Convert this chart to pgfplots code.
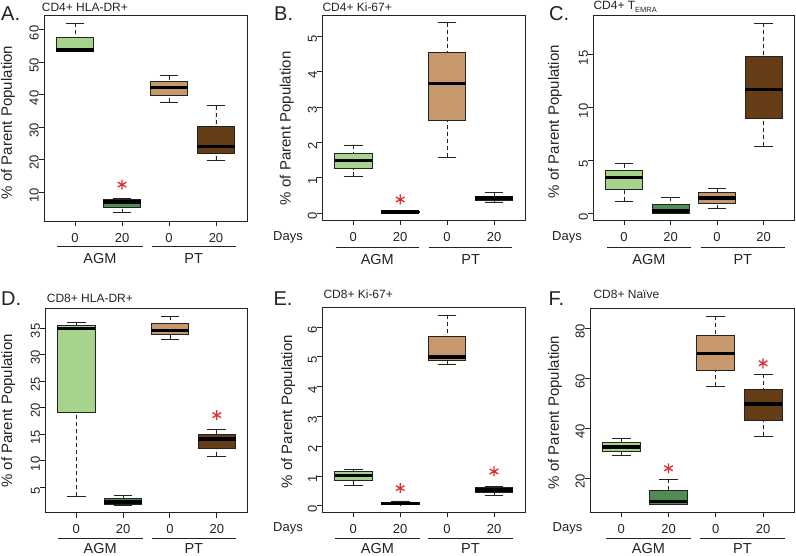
\documentclass[border=0pt]{standalone}
\usepackage{pgfplots}
\pgfplotsset{compat=1.18}
\usepgfplotslibrary{statistics}
\usepackage{fontspec}
\setmainfont{Liberation Sans}
\definecolor{lgreen}{RGB}{166,212,140}
\definecolor{dgreen}{RGB}{80,140,84}
\definecolor{tanc}{RGB}{198,152,108}
\definecolor{dbrown}{RGB}{102,60,22}
\definecolor{starred}{RGB}{225,45,50}
\definecolor{ink}{RGB}{35,35,35}
\pgfplotsset{
  panel/.style={
    scale only axis, clip=false,
    xmin=0.34, xmax=4.66,
    xtick={1,2,3,4}, xticklabels={0,20,0,20},
    xtick pos=lower, ytick pos=left,
    tick align=outside, major tick length=5pt,
    axis line style={draw=ink, line width=0.9pt},
    tick style={draw=ink, line width=0.9pt},
    /pgf/number format/assume math mode=true,
    tick label style={font=\fontsize{13}{13}\selectfont, text=ink},
    yticklabel style={rotate=90, anchor=south, inner sep=0pt, xshift=-3pt},
    xticklabel style={anchor=north, inner sep=0pt, yshift=-7pt},
    scaled y ticks=false,
    boxplot/draw direction=y,
    boxplot/box extend=0.8,
    boxplot/whisker extend=0.4,
    boxplot/every median/.style={line width=3.5pt, draw=black},
    boxplot/draw/lower whisker/.code={%
      \draw[dash pattern=on 4pt off 3pt] (boxplot box cs:\pgfplotsboxplotvalue{lower whisker},0.5) -- (boxplot box cs:\pgfplotsboxplotvalue{lower quartile},0.5);
      \draw[solid] (boxplot whisker cs:\pgfplotsboxplotvalue{lower whisker},0) -- (boxplot whisker cs:\pgfplotsboxplotvalue{lower whisker},1);
    },
    boxplot/draw/upper whisker/.code={%
      \draw[dash pattern=on 4pt off 3pt] (boxplot box cs:\pgfplotsboxplotvalue{upper whisker},0.5) -- (boxplot box cs:\pgfplotsboxplotvalue{upper quartile},0.5);
      \draw[solid] (boxplot whisker cs:\pgfplotsboxplotvalue{upper whisker},0) -- (boxplot whisker cs:\pgfplotsboxplotvalue{upper whisker},1);
    },
  },
  bx/.style={draw=ink, line width=0.8pt, solid, mark=none},
  star/.style={only marks, mark=asterisk, mark size=5pt, draw=starred, line width=1.3pt},
}
\newcommand{\lab}{\fontsize{15}{15}\selectfont}
\newcommand{\grp}{\fontsize{14.5}{14.5}\selectfont}
\newcommand{\ttl}{\fontsize{12}{12}\selectfont}
\begin{document}
\begin{tikzpicture}
\path[use as bounding box] (0,0) rectangle (796pt,555pt);

% ---------- A ----------
\begin{axis}[panel, at={(44pt,334pt)}, anchor=south west, width=203pt, height=206pt,
  ymin=1.1, ymax=64.6, ytick={10,20,30,40,50,60}]
\addplot[bx, fill=lgreen, boxplot prepared={draw position=1, lower whisker=53.3, lower quartile=53.3, median=53.8, upper quartile=57.8, upper whisker=62.0}] coordinates {};
\addplot[bx, fill=dgreen, boxplot prepared={draw position=2, lower whisker=3.7, lower quartile=5.4, median=7.0, upper quartile=7.8, upper whisker=8.0}] coordinates {};
\addplot[bx, fill=tanc, boxplot prepared={draw position=3, lower whisker=37.8, lower quartile=39.9, median=42.2, upper quartile=44.1, upper whisker=45.9}] coordinates {};
\addplot[bx, fill=dbrown, boxplot prepared={draw position=4, lower whisker=19.9, lower quartile=21.9, median=24.0, upper quartile=30.4, upper whisker=36.7}] coordinates {};
\addplot[star] coordinates {(2,12.3)};
\end{axis}

% ---------- B ----------
\begin{axis}[panel, at={(322.3pt,335pt)}, anchor=south west, width=202.7pt, height=205pt,
  ymin=-0.19, ymax=5.6, ytick={0,1,2,3,4,5}]
\addplot[bx, fill=lgreen, boxplot prepared={draw position=1, lower whisker=1.04, lower quartile=1.26, median=1.49, upper quartile=1.70, upper whisker=1.93}] coordinates {};
\addplot[bx, fill=dgreen, boxplot prepared={draw position=2, lower whisker=0.01, lower quartile=0.02, median=0.03, upper quartile=0.05, upper whisker=0.06}] coordinates {};
\addplot[bx, fill=tanc, boxplot prepared={draw position=3, lower whisker=1.58, lower quartile=2.62, median=3.67, upper quartile=4.53, upper whisker=5.38}] coordinates {};
\addplot[bx, fill=dbrown, boxplot prepared={draw position=4, lower whisker=0.32, lower quartile=0.35, median=0.43, upper quartile=0.49, upper whisker=0.58}] coordinates {};
\addplot[star] coordinates {(2,0.39)};
\end{axis}

% ---------- C ----------
\begin{axis}[panel, at={(593.3pt,335pt)}, anchor=south west, width=201pt, height=204.3pt,
  ymin=-0.6, ymax=18.7, ytick={0,5,10,15}]
\addplot[bx, fill=lgreen, boxplot prepared={draw position=1, lower whisker=1.17, lower quartile=2.28, median=3.42, upper quartile=4.05, upper whisker=4.72}] coordinates {};
\addplot[bx, fill=dgreen, boxplot prepared={draw position=2, lower whisker=0.05, lower quartile=0.06, median=0.25, upper quartile=0.85, upper whisker=1.55}] coordinates {};
\addplot[bx, fill=tanc, boxplot prepared={draw position=3, lower whisker=0.47, lower quartile=0.98, median=1.49, upper quartile=1.96, upper whisker=2.41}] coordinates {};
\addplot[bx, fill=dbrown, boxplot prepared={draw position=4, lower whisker=6.36, lower quartile=9.02, median=11.74, upper quartile=14.87, upper whisker=18.0}] coordinates {};
\end{axis}

% ---------- D ----------
\begin{axis}[panel, at={(45.3pt,42.3pt)}, anchor=south west, width=202.4pt, height=204.4pt,
  ymin=0.25, ymax=38.7, ytick={5,10,15,20,25,30,35}]
\addplot[bx, fill=lgreen, boxplot prepared={draw position=1, lower whisker=3.3, lower quartile=19.09, median=34.94, upper quartile=35.44, upper whisker=36.07}] coordinates {};
\addplot[bx, fill=dgreen, boxplot prepared={draw position=2, lower whisker=1.67, lower quartile=1.8, median=2.3, upper quartile=2.86, upper whisker=3.55}] coordinates {};
\addplot[bx, fill=tanc, boxplot prepared={draw position=3, lower whisker=32.9, lower quartile=33.74, median=34.56, upper quartile=35.94, upper whisker=37.2}] coordinates {};
\addplot[bx, fill=dbrown, boxplot prepared={draw position=4, lower whisker=10.91, lower quartile=12.36, median=14.1, upper quartile=14.94, upper whisker=15.88}] coordinates {};
\addplot[star] coordinates {(4,18.6)};
\end{axis}

% ---------- E ----------
\begin{axis}[panel, at={(322.3pt,42.7pt)}, anchor=south west, width=202.7pt, height=204.6pt,
  ymin=-0.22, ymax=6.65, ytick={0,1,2,3,4,5,6}]
\addplot[bx, fill=lgreen, boxplot prepared={draw position=1, lower whisker=0.68, lower quartile=0.85, median=1.02, upper quartile=1.14, upper whisker=1.23}] coordinates {};
\addplot[bx, fill=dgreen, boxplot prepared={draw position=2, lower whisker=0.03, lower quartile=0.04, median=0.08, upper quartile=0.12, upper whisker=0.16}] coordinates {};
\addplot[bx, fill=tanc, boxplot prepared={draw position=3, lower whisker=4.76, lower quartile=4.87, median=4.99, upper quartile=5.68, upper whisker=6.39}] coordinates {};
\addplot[bx, fill=dbrown, boxplot prepared={draw position=4, lower whisker=0.36, lower quartile=0.44, median=0.53, upper quartile=0.62, upper whisker=0.65}] coordinates {};
\addplot[star] coordinates {(2,0.59) (4,1.15)};
\end{axis}

% ---------- F ----------
\begin{axis}[panel, at={(590pt,42.7pt)}, anchor=south west, width=204.3pt, height=204pt,
  ymin=6.4, ymax=88, ytick={20,40,60,80}]
\addplot[bx, fill=lgreen, boxplot prepared={draw position=1, lower whisker=29.3, lower quartile=30.8, median=32.5, upper quartile=34.3, upper whisker=36.1}] coordinates {};
\addplot[bx, fill=dgreen, boxplot prepared={draw position=2, lower whisker=9.5, lower quartile=9.6, median=10.7, upper quartile=15.1, upper whisker=19.7}] coordinates {};
\addplot[bx, fill=tanc, boxplot prepared={draw position=3, lower whisker=56.9, lower quartile=63.3, median=69.9, upper quartile=77.3, upper whisker=84.9}] coordinates {};
\addplot[bx, fill=dbrown, boxplot prepared={draw position=4, lower whisker=36.9, lower quartile=43.2, median=49.7, upper quartile=55.6, upper whisker=61.6}] coordinates {};
\addplot[star] coordinates {(2,24) (4,66)};
\end{axis}

% ---------- decorations ----------
\begin{scope}[ink, line width=1.2pt]
\draw (57.3pt,308.3pt) -- (142.7pt,308.3pt); \draw (151.7pt,308.3pt) -- (235.7pt,308.3pt);
\draw (335.7pt,307.7pt) -- (419pt,307.7pt); \draw (429pt,307.7pt) -- (512.3pt,307.7pt);
\draw (607.3pt,307.7pt) -- (690.7pt,307.7pt); \draw (700.7pt,307.7pt) -- (785pt,307.7pt);
\draw (57.7pt,16.7pt) -- (142.7pt,16.7pt); \draw (151.7pt,16.7pt) -- (236pt,16.7pt);
\draw (335pt,16.7pt) -- (420pt,16.7pt); \draw (428.3pt,16.7pt) -- (512.7pt,16.7pt);
\draw (606pt,16.7pt) -- (691pt,16.7pt); \draw (700pt,16.7pt) -- (785pt,16.7pt);
\end{scope}
\begin{scope}[every node/.style={text=ink, inner sep=0pt}]
% group labels
\node[font=\grp] at (100pt,296.7pt) {AGM}; \node[font=\grp] at (193.7pt,296.7pt) {PT};
\node[font=\grp] at (377.3pt,295.7pt) {AGM}; \node[font=\grp] at (470.7pt,295.7pt) {PT};
\node[font=\grp] at (649pt,295.7pt) {AGM}; \node[font=\grp] at (742.8pt,295.7pt) {PT};
\node[font=\grp] at (100.2pt,6.5pt) {AGM}; \node[font=\grp] at (193.8pt,6.5pt) {PT};
\node[font=\grp] at (377.5pt,6.5pt) {AGM}; \node[font=\grp] at (470.5pt,6.5pt) {PT};
\node[font=\grp] at (648.5pt,6.5pt) {AGM}; \node[font=\grp] at (742.5pt,6.5pt) {PT};
% Days
\node[font=\fontsize{13}{13}\selectfont] at (288pt,317.7pt) {Days};
\node[font=\fontsize{13}{13}\selectfont] at (567pt,317.7pt) {Days};
\node[font=\fontsize{13}{13}\selectfont] at (288pt,26.7pt) {Days};
\node[font=\fontsize{13}{13}\selectfont] at (567.5pt,26.7pt) {Days};
% y labels
\node[font=\lab, rotate=90] at (8pt,432.5pt) {\% of Parent Population};
\node[font=\lab, rotate=90] at (286.7pt,426.7pt) {\% of Parent Population};
\node[font=\lab, rotate=90] at (555pt,433.3pt) {\% of Parent Population};
\node[font=\lab, rotate=90] at (8.3pt,144.2pt) {\% of Parent Population};
\node[font=\lab, rotate=90] at (288.3pt,143.3pt) {\% of Parent Population};
\node[font=\lab, rotate=90] at (555pt,142.5pt) {\% of Parent Population};
% panel letters
\node[anchor=west, font=\fontsize{20}{20}\selectfont] at (1pt,541.7pt) {A.};
\node[anchor=west, font=\fontsize{20}{20}\selectfont] at (274pt,541.7pt) {B.};
\node[anchor=west, font=\fontsize{20}{20}\selectfont] at (549pt,541.7pt) {C.};
\node[anchor=west, font=\fontsize{20}{20}\selectfont] at (1pt,256.7pt) {D.};
\node[anchor=west, font=\fontsize{20}{20}\selectfont] at (273.3pt,256pt) {E.};
\node[anchor=west, font=\fontsize{20}{20}\selectfont] at (548.3pt,256pt) {F.};
% titles
\node[anchor=west, font=\ttl] at (41.7pt,547.7pt) {CD4+ HLA-DR+};
\node[anchor=west, font=\ttl] at (322.3pt,547.7pt) {CD4+ Ki-67+};
\node[anchor=west, font=\ttl] at (593.3pt,547.7pt) {CD4+ T\raisebox{-3pt}{\fontsize{7.5}{7.5}\selectfont EMRA}};
\node[anchor=west, font=\ttl] at (46.7pt,256.7pt) {CD8+ HLA-DR+};
\node[anchor=west, font=\ttl] at (323.3pt,260.7pt) {CD8+ Ki-67+};
\node[anchor=west, font=\ttl] at (593.3pt,260.7pt) {CD8+ Naïve};
\end{scope}
\end{tikzpicture}
\end{document}
